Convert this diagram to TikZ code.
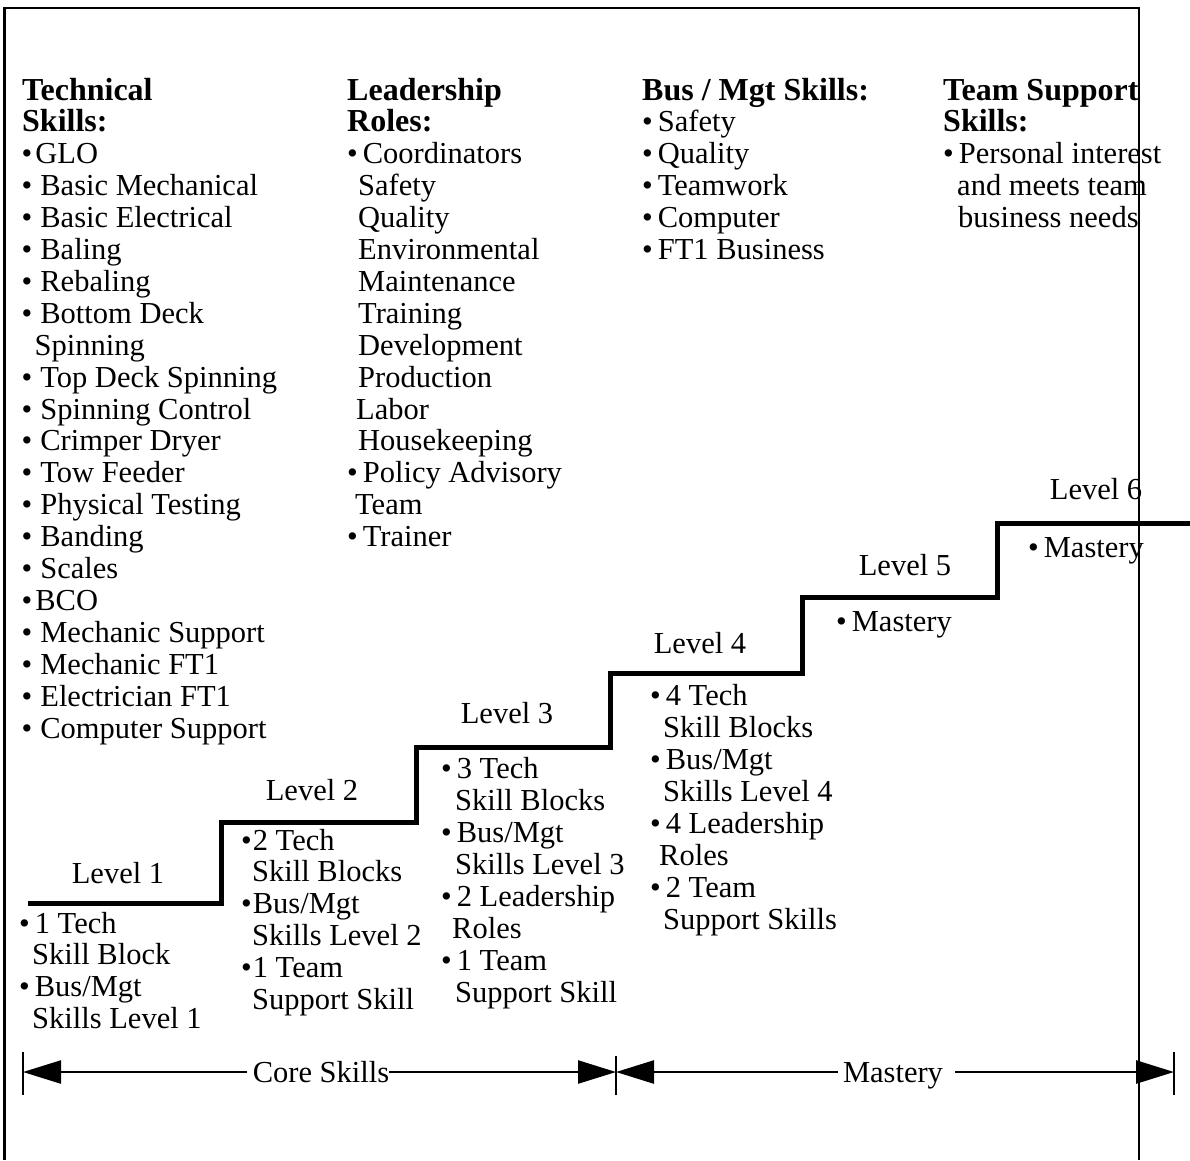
\documentclass[tikz,border=0pt]{standalone}
\usepackage{fontspec}
\setmainfont{Liberation Serif}
\usetikzlibrary{arrows.meta}
% bullet followed by a wide, a normal or a tight gap
\newcommand\bw{\textbullet\hspace{8pt}}
\newcommand\bu{\textbullet\hspace{5pt}}
\newcommand\bt{\textbullet\hspace{3pt}}
\newcommand\bz{\textbullet\hspace{1pt}}
\newcommand\ind[1]{\hspace{#1pt}}

\begin{document}
\begin{tikzpicture}[x=1pt,y=-1pt,
  txt/.style={anchor=base west, inner sep=0pt, font=\fontsize{30.5}{32}\selectfont},
  head/.style={anchor=base west, inner sep=0pt, font=\fontsize{32}{32}\selectfont\bfseries},
  lvl/.style={anchor=base, inner sep=0pt, font=\fontsize{30.5}{32}\selectfont},
  stair/.style={line width=5pt, line join=miter},
  frame/.style={line width=2.5pt},
  dimline/.style={line width=2.5pt, -{Triangle[length=38pt,width=23pt]}},
]
\useasboundingbox (0,0) rectangle (1190,1160);

% ---- skill catalogues across the top ----
\node[head] (tech0) at (22,100) {Technical};
\node[head] (tech1) at (22,131.9) {Skills:};
\foreach \t [count=\i from 2] in {
  {\bt GLO},{\bw Basic Mechanical},{\bw Basic Electrical},{\bw Baling},
  {\bw Rebaling},{\bw Bottom Deck},{\ind{13}Spinning},{\bw Top Deck Spinning},
  {\bw Spinning Control},{\bw Crimper Dryer},{\bw Tow Feeder},
  {\bw Physical Testing},{\bw Banding},{\bw Scales},{\bt BCO},
  {\bw Mechanic Support},{\bw Mechanic FT1},{\bw Electrician FT1},
  {\bw Computer Support}}
  \node[txt] (tech\i) at (21.5,100+31.9*\i) {\t};

\node[head] (lead0) at (347,100) {Leadership};
\node[head] (lead1) at (347,131.9) {Roles:};
\foreach \t [count=\i from 2] in {
  {\bu Coordinators},{\ind{11}Safety},{\ind{11}Quality},{\ind{11}Environmental},
  {\ind{11}Maintenance},{\ind{11}Training},{\ind{11}Development},
  {\ind{11}Production},{\ind{9}Labor},{\ind{11}Housekeeping},
  {\bu Policy Advisory},{\ind{8}Team},{\bu Trainer}}
  \node[txt] (lead\i) at (347,100+31.9*\i) {\t};

\node[head] (bus0) at (642,100) {Bus / Mgt Skills:};
\foreach \t [count=\i from 1] in {
  {\bu Safety},{\bu Quality},{\bu Teamwork},{\bu Computer},{\bu FT1 Business}}
  \node[txt] (bus\i) at (642,100+31.9*\i) {\t};

\node[head] (team0) at (943,100) {Team Support};
\node[head] (team1) at (943,131.9) {Skills:};
\foreach \t [count=\i from 2] in {
  {\bu Personal interest},{\ind{14}and meets team},{\ind{15}business needs}}
  \node[txt] (team\i) at (943,100+31.9*\i) {\t};

% ---- staircase ----
\draw[stair] (28,903) -- (221,903) -- (221,822) -- (416,822) -- (416,747)
  -- (610,747) -- (610,673) -- (802,673) -- (802,597) -- (997,597)
  -- (997,523) -- (1190,523);

\node[lvl] (lv1) at (118,883) {Level 1};
\node[lvl] (lv2) at (312,800) {Level 2};
\node[lvl] (lv3) at (507,723) {Level 3};
\node[lvl] (lv4) at (700,653) {Level 4};
\node[lvl] (lv5) at (905,575) {Level 5};
\node[lvl] (lv6) at (1096,499) {Level 6};

% ---- requirements under each step ----
\foreach \t [count=\i from 0] in {
  {\bu 1 Tech},{\ind{13}Skill Block},{\bu Bus/Mgt},{\ind{13}Skills Level 1}}
  \node[txt] (req1-\i) at (19,933+31.7*\i) {\t};

\foreach \t [count=\i from 0] in {
  {\bz 2 Tech},{\ind{11}Skill Blocks},{\bz Bus/Mgt},{\ind{11}Skills Level 2},
  {\bz 1 Team},{\ind{11}Support Skill}}
  \node[txt] (req2-\i) at (241,850+31.9*\i) {\t};

\foreach \t [count=\i from 0] in {
  {\bu 3 Tech},{\ind{14}Skill Blocks},{\bu Bus/Mgt},{\ind{14}Skills Level 3},
  {\bu 2 Leadership},{\ind{11}Roles},{\bu 1 Team},{\ind{14}Support Skill}}
  \node[txt] (req3-\i) at (441,778+32*\i) {\t};

\foreach \t [count=\i from 0] in {
  {\bu 4 Tech},{\ind{13}Skill Blocks},{\bu Bus/Mgt},{\ind{13}Skills Level 4},
  {\bu 4 Leadership},{\ind{9}Roles},{\bu 2 Team},{\ind{13}Support Skills}}
  \node[txt] (req4-\i) at (650,705+32*\i) {\t};

\node[txt] (req5-0) at (836,631) {\bu Mastery};
\node[txt] (req6-0) at (1028,557) {\bu Mastery};

% ---- span arrows along the bottom ----
\coordinate (dl) at (23,1072);
\coordinate (dm) at (616,1072);
\coordinate (dr) at (1174,1072);
\node[lvl] (core) at (321,1082) {Core Skills};
\node[lvl] (mast) at (893,1082) {Mastery};

\draw[dimline, shorten <=6pt] (core.west |- dl) -- (dl);
\draw[dimline] (core.east |- dl) -- (dm);
\draw[dimline, shorten <=5pt] (mast.west |- dl) -- (dm);
\draw[dimline, shorten <=12pt] (mast.east |- dl) -- (dr);

\draw[frame] ([yshift=20pt]dl) -- ([yshift=-23pt]dl);
\draw[frame] ([yshift=16pt]dm) -- ([yshift=-23pt]dm);
\draw[frame] ([yshift=20pt]dr) -- ([yshift=-23pt]dr);

% ---- open frame ----
\draw[frame] (4.5,1160) -- (4.5,8) -- (1139,8) -- (1139,1160);
\end{tikzpicture}
\end{document}
